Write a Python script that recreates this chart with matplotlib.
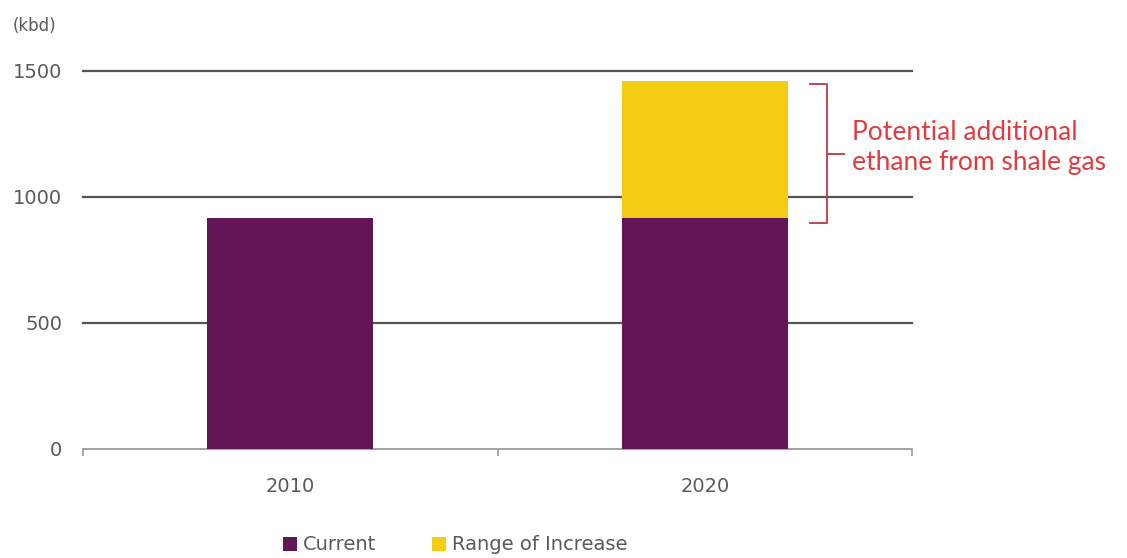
import matplotlib
matplotlib.use("Agg")
import matplotlib.pyplot as plt
from matplotlib.patches import Patch

# Ethane supply (kbd)
years = ["2010", "2020"]
current = [917, 917]
increase = [0, 543]
y_ticks = [0, 500, 1000, 1500]
unit_label = "(kbd)"
legend_labels = ["Current", "Range of Increase"]
note_text = "Potential additional\nethane from shale gas"

purple = "#621656"
yellow = "#f5cc14"
grid_col = "#555555"
text_col = "#5a5a5a"
note_col = "#e23b3f"
bracket_col = "#b84a50"

plt.rcParams["font.family"] = ["DejaVu Sans"]

fig = plt.figure(figsize=(11.27, 5.58), dpi=100)
ax = fig.add_axes([83 / 1127, 1 - 449 / 558, (912 - 83) / 1127, 378 / 558])

x = list(range(len(years)))
width = 0.40
ax.bar(x, current, width=width, color=purple, zorder=3)
ax.bar(x, increase, width=width, bottom=current, color=yellow, zorder=3)

ax.set_xlim(-0.5, 1.5)
ax.set_ylim(0, 1500)

# horizontal gridlines above zero
for v in y_ticks[1:]:
    ax.axhline(v, color=grid_col, lw=1.6, zorder=1, clip_on=False)

for s in ["top", "right", "left"]:
    ax.spines[s].set_visible(False)
ax.spines["bottom"].set_color("#9a9a9a")
ax.spines["bottom"].set_linewidth(1.3)

ax.set_yticks(y_ticks)
ax.set_yticklabels([str(v) for v in y_ticks])
ax.tick_params(axis="y", length=0, pad=15, labelsize=14, labelcolor=text_col)

# category boundaries carry the tick marks; labels sit at bar centres
ax.set_xticks([-0.5, 0.5, 1.5])
ax.set_xticklabels([])
ax.tick_params(axis="x", which="major", length=5, color="#9a9a9a", width=1.2)
ax.set_xticks(x, minor=True)
ax.set_xticklabels(years, minor=True)
ax.tick_params(axis="x", which="minor", length=0, pad=20, labelsize=14,
               labelcolor=text_col)

fig.text(13 / 1127, 1 - 26 / 558, unit_label, fontsize=12, color=text_col,
         va="center", ha="left")

# bracket around the range of increase
i = 1
lo = current[i] - 20
hi = current[i] + increase[i] - 12
xa, xb, xc = 1.255, 1.295, 1.335
mid = (lo + hi) / 2
ax.plot([xa, xb, xb, xa], [hi, hi, lo, lo], color=bracket_col, lw=1.4,
        clip_on=False, zorder=4, solid_joinstyle="round")
ax.plot([xb, xc], [mid, mid], color=bracket_col, lw=1.4, clip_on=False,
        zorder=4)
ax.text(1.355, mid + 22, note_text, color=note_col, fontsize=19,
        family=["Lato", "DejaVu Sans"],
        ha="left", va="center", linespacing=1.25, clip_on=False)

handles = [Patch(facecolor=purple), Patch(facecolor=yellow)]
fig.legend(handles, legend_labels, loc="center",
           bbox_to_anchor=(455 / 1127, 1 - 545 / 558), ncol=2, frameon=False,
           fontsize=14, labelcolor=text_col, handlelength=0.7,
           handleheight=0.7, handletextpad=0.3, columnspacing=2.9,
           borderpad=0.0)

fig.savefig("out.png", dpi=100)
